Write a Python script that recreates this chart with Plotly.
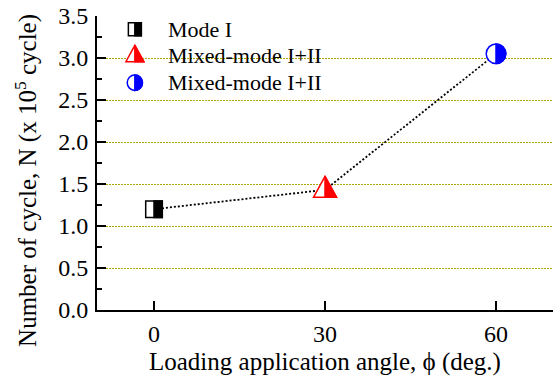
import plotly.graph_objects as go

# Fatigue life versus loading application angle
angles = [0, 30, 60]                 # loading application angle, deg.
cycles = [1.20, 1.43, 3.05]          # number of cycles, x 10^5
series_names = ["Mode I", "Mixed-mode I+II", "Mixed-mode I+II"]
series_colors = ["#000000", "#ff0000", "#0000ff"]
series_glyphs = ["square", "triangle", "circle"]
x_ticks = [0, 30, 60]
y_ticks = [0.0, 0.5, 1.0, 1.5, 2.0, 2.5, 3.0, 3.5]

FONT = "Liberation Serif"
K = 0.5523  # cubic bezier constant for quarter circles


def half_circle_path(r):
    # right half of a circle, pixel units, y up
    return (f"M 0,{-r} C {K*r},{-r} {r},{-K*r} {r},0 "
            f"C {r},{K*r} {K*r},{r} 0,{r} Z")


def glyph_shapes(kind, color, xa, ya, scale, xref, yref):
    """Half-filled marker glyph built from pixel-sized shapes."""
    common = dict(xref=xref, yref=yref, xsizemode="pixel", ysizemode="pixel",
                  xanchor=xa, yanchor=ya, layer="above")
    out = []
    if kind == "square":
        h = 8.3 * scale
        out.append(dict(type="rect", x0=-h, x1=h, y0=-h, y1=h,
                        fillcolor="white", line=dict(color=color, width=1.5), **common))
        out.append(dict(type="rect", x0=0, x1=h, y0=-h, y1=h,
                        fillcolor=color, line=dict(color=color, width=1.5), **common))
    elif kind == "triangle":
        w, top, bot = 11.5 * scale, 13.6 * scale, -7.4 * scale
        out.append(dict(type="path", path=f"M {-w},{bot} L 0,{top} L {w},{bot} Z",
                        fillcolor="white", line=dict(color=color, width=1.5), **common))
        out.append(dict(type="path", path=f"M 0,{bot} L 0,{top} L {w},{bot} Z",
                        fillcolor=color, line=dict(color=color, width=1.5), **common))
    else:
        r = 9.8 * scale
        out.append(dict(type="circle", x0=-r, x1=r, y0=-r, y1=r,
                        fillcolor="white", line=dict(color=color, width=1.5), **common))
        out.append(dict(type="path", path=half_circle_path(r),
                        fillcolor=color, line=dict(color=color, width=1.5), **common))
    return out


fig = go.Figure()

# dotted connecting line
fig.add_trace(go.Scatter(
    x=angles, y=cycles, mode="lines",
    line=dict(color="black", width=1.8, dash="2px,2px"),
    showlegend=False, hoverinfo="skip",
))

shapes = []
for xv, yv, kind, col in zip(angles, cycles, series_glyphs, series_colors):
    shapes += glyph_shapes(kind, col, xv, yv, 1.0, "x", "y")

# hand-built legend in the upper-left corner
annotations = []
legend_rows = [0.955, 0.864, 0.773]
for name, kind, col, ly in zip(series_names, series_glyphs, series_colors, legend_rows):
    shapes += glyph_shapes(kind, col, 0.083, ly, 0.78, "paper", "paper")
    annotations.append(dict(text=name, x=0.152, y=ly, xref="paper", yref="paper",
                            xanchor="left", yanchor="middle", showarrow=False,
                            font=dict(family=FONT, size=22, color="black")))

# axis titles
annotations.append(dict(text="Loading application angle, \u03d5 (deg.)",
                        x=0.5, y=-0.176, xref="paper", yref="paper",
                        xanchor="center", yanchor="middle", showarrow=False,
                        font=dict(family=FONT, size=25, color="black")))
annotations.append(dict(text="Number of cycle, N (x 10<sup>5</sup> cycle)",
                        x=-0.156, y=0.442, xref="paper", yref="paper", textangle=-90,
                        xanchor="center", yanchor="middle", showarrow=False,
                        font=dict(family=FONT, size=25, color="black")))

fig.update_layout(
    width=556, height=378,
    margin=dict(l=97, r=3, t=16, b=68),
    paper_bgcolor="white", plot_bgcolor="white",
    shapes=shapes, annotations=annotations,
    showlegend=False,
    font=dict(family=FONT, size=22, color="black"),
)

fig.update_xaxes(
    range=[-10, 70], tickvals=x_ticks, ticktext=[str(v) for v in x_ticks],
    showline=True, linecolor="black", linewidth=2,
    ticks="inside", ticklen=9, tickwidth=1.5, tickcolor="black",
    showgrid=False, zeroline=False, mirror=False,
    tickfont=dict(family=FONT, size=24, color="black"),
    ticklabelstandoff=1,
)
fig.update_yaxes(
    range=[0, 3.5], tickvals=y_ticks, ticktext=[f"{v:.1f}" for v in y_ticks],
    showline=True, linecolor="black", linewidth=2,
    ticks="inside", ticklen=9, tickwidth=1.5, tickcolor="black",
    minor=dict(dtick=0.25, tick0=0, ticks="inside", ticklen=5, tickwidth=1.5,
               tickcolor="black", showgrid=False),
    showgrid=True, gridcolor="#a8a800", gridwidth=1, griddash="2px,1px",
    zeroline=False, mirror=False,
    tickfont=dict(family=FONT, size=24, color="black"),
    ticklabelstandoff=2,
)

fig.write_html("out.html")
